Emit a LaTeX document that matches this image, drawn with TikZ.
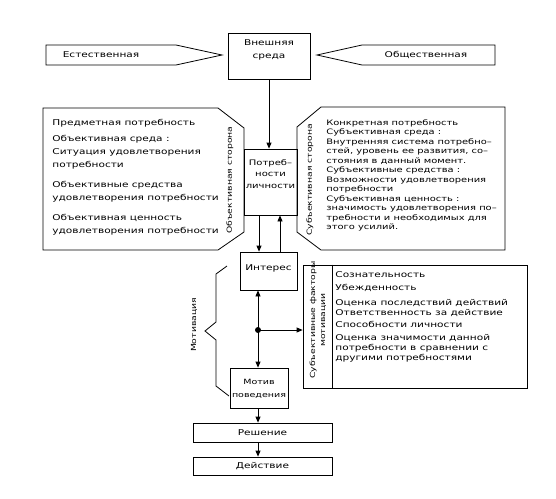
\documentclass[tikz,border=0pt]{standalone}
\usepackage{fontspec}
\setmainfont[FakeStretch=1.32]{DejaVu Sans}
\usetikzlibrary{arrows.meta}
\begin{document}
\begin{tikzpicture}[x=1pt,y=-1pt,line width=0.8pt,
  box/.style={draw,inner sep=0pt},
  tx/.style={font=\fontsize{8}{11}\selectfont,inner sep=0pt,align=center},
  lt/.style={font=\fontsize{8}{13}\selectfont,inner sep=0pt,align=left,anchor=north west},
  rt/.style={font=\fontsize{7.5}{9.5}\selectfont,inner sep=0pt,align=left,anchor=north west},
  vt/.style={font=\fontsize{7}{10}\selectfont,inner sep=0pt,align=center,rotate=90},
  arr/.style={-{Triangle[length=6pt,width=5pt]}}]
\useasboundingbox (0,0) rectangle (556,498);
\fill[white] (0,0) rectangle (556,498);

% top
\node[box,minimum width=82pt,minimum height=46pt] (ext) at (269,56) {};
\node[tx,font=\fontsize{8}{13}\selectfont] (extt) at (269,50) {Внешняя\\среда};
\draw (46,45) -- (176,45) -- (222,55) -- (176,65) -- (46,65) -- cycle;
\node[tx] (est) at (101,55) {Естественная};
\draw (317,55) -- (362,45) -- (495,45) -- (495,65) -- (362,65) -- cycle;
\node[tx] (obs) at (426,55) {Общественная};

% left panel
\draw (43,108) -- (218,108) -- (244,128) -- (244,232) -- (218,250) -- (43,250) -- cycle;
\node[lt] (ltxt) at (52,119) {Предметная потребность\\[3pt]
Объективная среда :\\ Ситуация удовлетворения\\ потребности\\[7pt]
Объективные средства\\ удовлетворения потребности\\[7pt]
Объективная ценность\\ удовлетворения потребности};
\node[vt] (los) at (230,180) {Объективная сторона};

% right panel
\draw (505,107) -- (321,107) -- (297,127) -- (297,232) -- (321,250) -- (505,250) -- cycle;
\node[rt] (rtxt) at (326,119) {Конкретная потребность\\
Субъективная среда :\\
Внутренняя система потребно–\\
стей, уровень ее развития, со–\\
стояния в данный момент.\\
Субъективные средства :\\
Возможности удовлетворения\\
потребности\\
Субъективная ценность :\\
значимость удовлетворения по–\\
требности и необходимых для\\
этого усилий.};
\node[vt] (ros) at (310,180) {Субъективная сторона};

% center
\node[box,minimum width=53pt,minimum height=66pt] (need) at (270.5,182) {};
\node[tx,font=\fontsize{7.6}{11.5}\selectfont] (needt) at (270.5,174) {Потреб–\\ности\\личности};
\node[box,minimum width=57pt,minimum height=38pt] (int) at (268.5,271) {};
\node[tx] (intt) at (268.5,268) {Интерес};
\node[box,minimum width=58pt,minimum height=40pt] (mot) at (259,388) {};
\node[tx,font=\fontsize{7.2}{13}\selectfont] (mott) at (259,389) {Мотив\\поведения};
\node[box,minimum width=139pt,minimum height=19pt] (resh) at (262.5,432.5) {};
\node[tx] (resht) at (262.5,432.5) {Решение};
\node[box,minimum width=139pt,minimum height=18pt] (dey) at (262.5,466) {};
\node[tx] (deyt) at (262.5,466) {Действие};

\coordinate (dn) at (259,0);
\coordinate (up) at (280,0);
\coordinate (dot) at (258,330);

\draw[arr] (ext.south -| ext) -- (need.north -| ext);
\draw[arr] (need.south -| dn) -- (int.north -| dn);
\draw[arr] (int.north -| up) -- (need.south -| up);
\draw[arr] (dot) -- (int.south -| dot);
\draw[arr] (dot) -- (mot.north -| dot);
\fill (dot) circle (3pt);
\draw[arr] (mot.south -| dot) -- (resh.north -| dot);
\draw[arr] (resh.south -| dot) -- (dey.north -| dot);

% subjective factors box
\node[box,minimum width=224pt,minimum height=123pt] (sf) at (415,326.5) {};
\coordinate (sfd) at (332,0);
\draw (sf.north -| sfd) -- (sf.south -| sfd);
\draw[arr] (dot) -- (sf.west |- dot);
\node[vt] (sft) at (318,320) {Субъективные факторы\\мотивации};
\node[lt,font=\fontsize{8}{10}\selectfont] (sftxt) at (335,271) {Сознательность\\[3pt]
Убежденность\\[5pt]
Оценка последствий действий\\
Ответственность за действие\\[2pt]
Способности личности\\[3pt]
Оценка значимости данной\\
потребности в сравнении с\\
другими потребностями};

% brace
\draw (227,266) -- (216,274) -- (216,322) -- (205,331) -- (216,340) -- (216,386) -- (229,396);
\node[vt] (motv) at (194,325) {Мотивация};
\end{tikzpicture}
\end{document}
